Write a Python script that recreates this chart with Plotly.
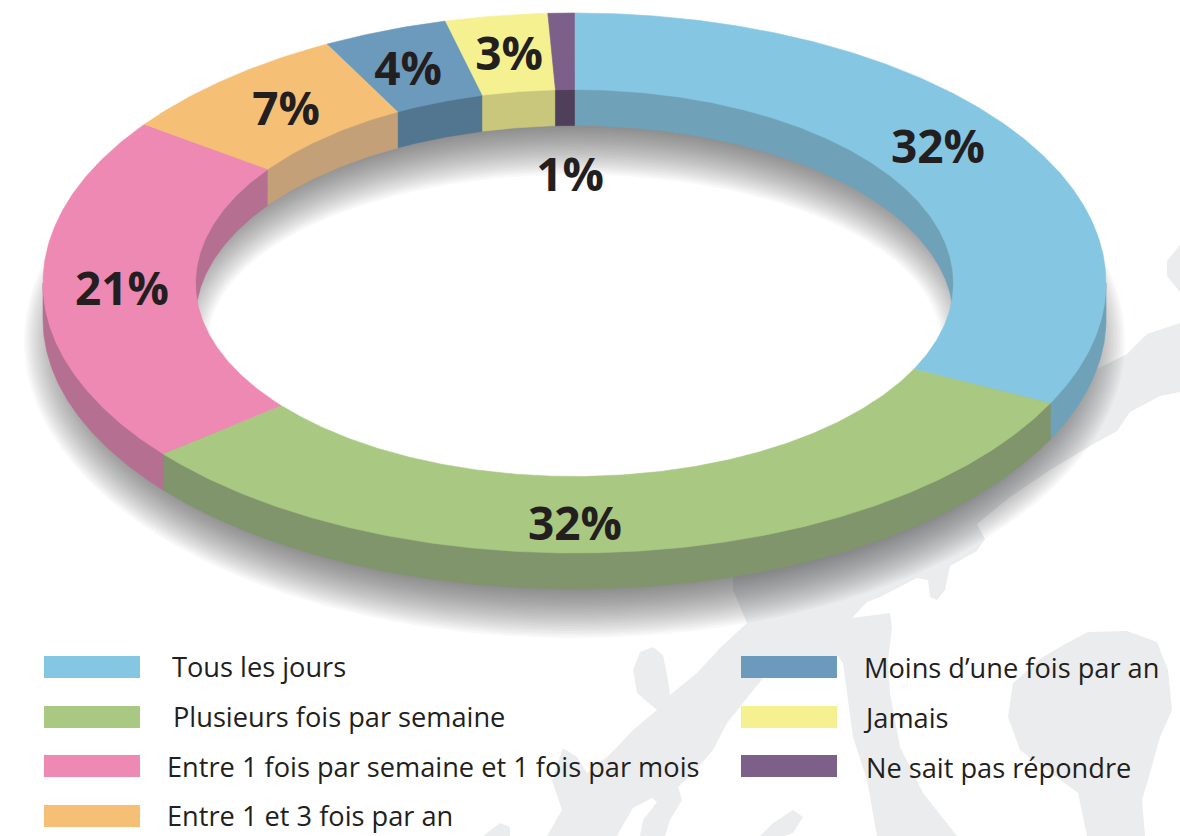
import numpy as np
import plotly.graph_objects as go

# ---- data -------------------------------------------------------------
categories = ["Tous les jours", "Plusieurs fois par semaine",
              "Entre 1 fois par semaine et 1 fois par mois", "Entre 1 et 3 fois par an",
              "Moins d\u2019une fois par an", "Jamais", "Ne sait pas r\u00e9pondre"]
values = [32.35, 31.75, 20.9, 7.3, 3.8, 3.1, 0.8]   # measured arc shares
value_labels = ["32%", "32%", "21%", "7%", "4%", "3%", "1%"]

# ---- style ------------------------------------------------------------
top_colors = ["#85c7e3", "#a9c881", "#ee89b3", "#f6bf76", "#6c9abc", "#f5f190", "#7d6089"]
wall_colors = ["#6fa2b8", "#80956c", "#b56f90", "#c3a078", "#527690", "#c9c77c", "#4f3f5a"]
label_pos = [(938, 151), (575, 528), (122, 293), (286, 113), (408, 73), (509, 58), (570, 179)]
swatch_pos = [(44, 667), (44, 717), (44, 766), (44, 816), (741, 667), (741, 717), (741, 766)]
text_pos = [(170, 666), (171, 716), (165, 766), (165, 815), (862, 667), (861, 717), (864, 767)]
TEXT = "#231f20"
GHOST = "#ebecee"
FONT = "Open Sans"
CX, CY, RX, RY, IRX, IRY, DEPTH = 574.5, 283.0, 531.5, 270.0, 379.0, 193.5, 36.0

# background watermark silhouette (decoration, in page pixels)
ghost_shapes = [
    [(1097,369),(1127,354),(1147,334),(1180,323),(1180,392),(1160,396),(1130,412),(1117,431),(1090,446),
     (1050,470),(1010,497),(977,524),(985,539),(977,551),(950,566),(945,590),(937,600),(930,597),(928,580),
     (917,578),(880,597),(867,602),(852,618),(890,613),(892,627),(888,660),(890,693),(900,747),(923,793),
     (957,836),(877,836),(867,780),(853,737),(847,693),(843,663),(838,656),(775,665),(763,678),(743,703),
     (727,723),(713,750),(693,773),(678,787),(682,800),(670,820),(665,836),(640,836),(643,820),(657,802),
     (652,798),(633,808),(620,830),(617,836),(547,836),(562,810),(552,780),(563,748),(577,757),(587,773),
     (607,757),(617,747),(633,730),(657,710),(637,693),(633,670),(640,652),(653,647),(663,655),(668,680),
     (670,695),(697,673),(720,648),(747,623),(733,590),(733,560)],
    [(1088,632),(1127,631),(1157,642),(1168,670),(1172,710),(1160,737),(1150,773),(1142,800),(1145,836),
     (1087,836),(1078,793),(1047,770),(1020,750),(1008,717),(1013,683),(1043,657),(1067,643)],
    [(1180,245),(1167,261),(1167,276),(1180,292)],
    [(793,810),(803,817),(793,833),(785,836),(760,836),(773,823)],
    [(500,823),(510,827),(510,836),(483,836)],
]


def arc(a0, a1, rx, ry, cy=CY, n=None):
    """Ellipse arc, angle clockwise from 12 o'clock, in degrees."""
    n = n or max(2, int(abs(a1 - a0) * 2))
    t = np.radians(np.linspace(a0, a1, n))
    return CX + rx * np.sin(t), cy - ry * np.cos(t)


def poly(xa, ya, xb, yb, fill, line=None):
    x = np.concatenate([xa, xb[::-1], xa[:1]])
    y = np.concatenate([ya, yb[::-1], ya[:1]])
    return go.Scatter(x=x, y=y, mode="lines", fill="toself", fillcolor=fill,
                      line=dict(color=line or "rgba(0,0,0,0)", width=0.6 if line else 0),
                      hoverinfo="skip", showlegend=False)


fig = go.Figure()

# soft shadow: stacked translucent rings
N, BLUR, SHIFT = 24, 27.0, 58.0
for i in range(N):
    s = BLUR * (1 - 2 * i / (N - 1))
    xa, ya = arc(0, 360, RX - 8 + s, RY + s, CY + SHIFT, 361)
    xb, yb = arc(0, 360, IRX + 14 - s, IRY - s, CY + SHIFT, 361)
    fig.add_trace(poly(xa, ya, xb, yb, "rgba(60,61,68,0.037)"))

edges = 360 * np.concatenate([[0], np.cumsum(values)]) / np.sum(values)

# walls: inner wall is seen on the far half, outer wall on the near half
for a0, a1, wall in zip(edges[:-1], edges[1:], wall_colors):
    for lo, hi in [(a0, min(a1, 90)), (max(a0, 270), a1)]:
        if hi > lo:
            xa, ya = arc(lo, hi, IRX, IRY)
            xb, yb = arc(lo, hi, IRX, IRY, CY + DEPTH)
            fig.add_trace(poly(xa, ya, xb, yb, wall, wall))
    lo, hi = max(a0, 90), min(a1, 270)
    if hi > lo:
        xa, ya = arc(lo, hi, RX, RY)
        xb, yb = arc(lo, hi, RX, RY, CY + DEPTH)
        fig.add_trace(poly(xa, ya, xb, yb, wall, wall))

# top faces
for a0, a1, col in zip(edges[:-1], edges[1:], top_colors):
    xa, ya = arc(a0, a1, RX, RY)
    xb, yb = arc(a0, a1, IRX, IRY)
    fig.add_trace(poly(xa, ya, xb, yb, col, col))

# value labels
fig.add_trace(go.Scatter(x=[p[0] for p in label_pos], y=[p[1] for p in label_pos], mode="text",
                         text=value_labels, textposition="middle center",
                         textfont=dict(family=FONT, size=46, color=TEXT, weight="bold"),
                         hoverinfo="skip", showlegend=False))

shapes = []
for pts in ghost_shapes:
    path = "M" + "L".join(f"{x},{y}" for x, y in pts) + "Z"
    shapes.append(dict(type="path", path=path, fillcolor=GHOST, line_width=0, layer="below"))
for (x, y), col in zip(swatch_pos, top_colors):
    shapes.append(dict(type="rect", x0=x, x1=x + 96, y0=y - 11, y1=y + 11, fillcolor=col, line_width=0, layer="above"))

annotations = [dict(x=x, y=y, text=t, showarrow=False, xanchor="left", yanchor="middle",
                    font=dict(family=FONT, size=27.2, color=TEXT))
               for (x, y), t in zip(text_pos, categories)]

fig.update_layout(
    width=1180, height=836, margin=dict(l=0, r=0, t=0, b=0),
    paper_bgcolor="white", plot_bgcolor="white", showlegend=False,
    xaxis=dict(range=[0, 1180], visible=False, fixedrange=True),
    yaxis=dict(range=[836, 0], visible=False, fixedrange=True),
    shapes=shapes, annotations=annotations,
)

fig.write_html("out.html", config=dict(displayModeBar=False),
               post_script="document.body.style.margin='0';document.body.style.overflow='hidden';")
